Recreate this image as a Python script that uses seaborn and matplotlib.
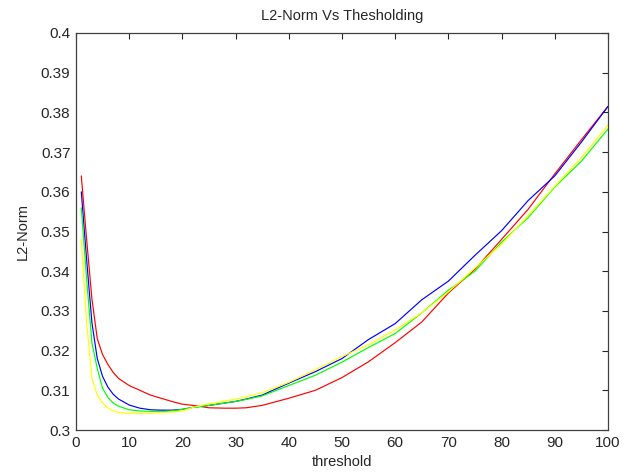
"""
L2-Norm vs umbral (threshold) para cuatro variantes.
Genera out.png con estilo tipo MATLAB.
"""

import numpy as np
import pandas as pd
import matplotlib
matplotlib.use("Agg")
import matplotlib.pyplot as plt
import seaborn as sns

# valores
threshold = [1, 2, 3, 4, 5, 6, 7, 8, 10, 12, 14, 16, 18, 20, 22, 25, 28,
             30, 32, 35, 40, 45, 50, 55, 60, 65, 70, 75, 80, 85, 90, 95, 100]

red = [0.364, 0.348, 0.333, 0.323, 0.319, 0.3165, 0.3145, 0.3130, 0.3112,
       0.3100, 0.3088, 0.3080, 0.3072, 0.3065, 0.3062, 0.3056, 0.3055,
       0.3055, 0.3056, 0.3062, 0.3080, 0.3100, 0.3132, 0.3172, 0.3220,
       0.3272, 0.3345, 0.3405, 0.3480, 0.3556, 0.3645, 0.3731, 0.3815]

blue = [0.360, 0.343, 0.327, 0.318, 0.3135, 0.3108, 0.3090, 0.3078, 0.3063,
        0.3055, 0.3051, 0.3050, 0.3050, 0.3052, 0.3057, 0.3062, 0.3068,
        0.3072, 0.3078, 0.3088, 0.3118, 0.3147, 0.3180, 0.3228, 0.3268,
        0.3328, 0.3375, 0.3440, 0.3502, 0.3578, 0.3640, 0.3725, 0.3815]

green = [0.356, 0.338, 0.322, 0.3155, 0.3105, 0.3082, 0.3068, 0.3060, 0.3051,
         0.3048, 0.3047, 0.3046, 0.3048, 0.3052, 0.3057, 0.3062, 0.3068,
         0.3072, 0.3077, 0.3086, 0.3112, 0.3138, 0.3171, 0.3208, 0.3243,
         0.3295, 0.3352, 0.3400, 0.3473, 0.3535, 0.3612, 0.3677, 0.3758]

yellow = [0.348, 0.327, 0.313, 0.3088, 0.3068, 0.3055, 0.3048, 0.3044, 0.3042,
          0.3042, 0.3042, 0.3044, 0.3045, 0.3048, 0.3057, 0.3066, 0.3073,
          0.3078, 0.3084, 0.3094, 0.3120, 0.3152, 0.3185, 0.3215, 0.3252,
          0.3295, 0.3348, 0.3408, 0.3468, 0.3540, 0.3614, 0.3686, 0.3768]

series_names = ["red", "blue", "green", "yellow"]
series_colors = {"red": "#ff0000", "blue": "#0000ff",
                 "green": "#00ff00", "yellow": "#ffff00"}


def build_frame():
    parts = []
    for name, vals in zip(series_names, [red, blue, green, yellow]):
        parts.append(pd.DataFrame({"threshold": threshold,
                                   "l2": vals, "serie": name}))
    return pd.concat(parts, ignore_index=True)


def main():
    sns.set_style("white")
    plt.rcParams["font.family"] = ["Liberation Sans", "DejaVu Sans"]

    df = build_frame()

    fig = plt.figure(figsize=(6.3, 4.74), dpi=100)
    ax = fig.add_axes([0.1206, 0.0928, 0.8444, 0.8376])

    sns.lineplot(data=df, x="threshold", y="l2", hue="serie",
                 palette=series_colors, hue_order=series_names,
                 linewidth=0.85, legend=False, ax=ax)

    yt = np.round(np.arange(0.30, 0.401, 0.01), 2)
    ax.set_xlim(0, 100)
    ax.set_ylim(0.3, 0.4)
    ax.set_xticks(np.arange(0, 101, 10))
    ax.set_yticks(yt)
    ax.set_yticklabels([f"{v:g}" for v in yt])
    ax.tick_params(direction="in", length=4, width=0.8, top=True, right=True,
                   labelsize=11, colors="#262626", pad=4)
    for s in ax.spines.values():
        s.set_color("#404040")
        s.set_linewidth(0.9)

    ax.set_title("L2-Norm Vs Thesholding", fontsize=10.5, pad=9)
    ax.set_xlabel("threshold", fontsize=10.5, labelpad=4)
    ax.set_ylabel("L2-Norm", fontsize=10.5, labelpad=8)

    fig.savefig("out.png", dpi=100, facecolor="white")
    plt.close(fig)


if __name__ == "__main__":
    main()
